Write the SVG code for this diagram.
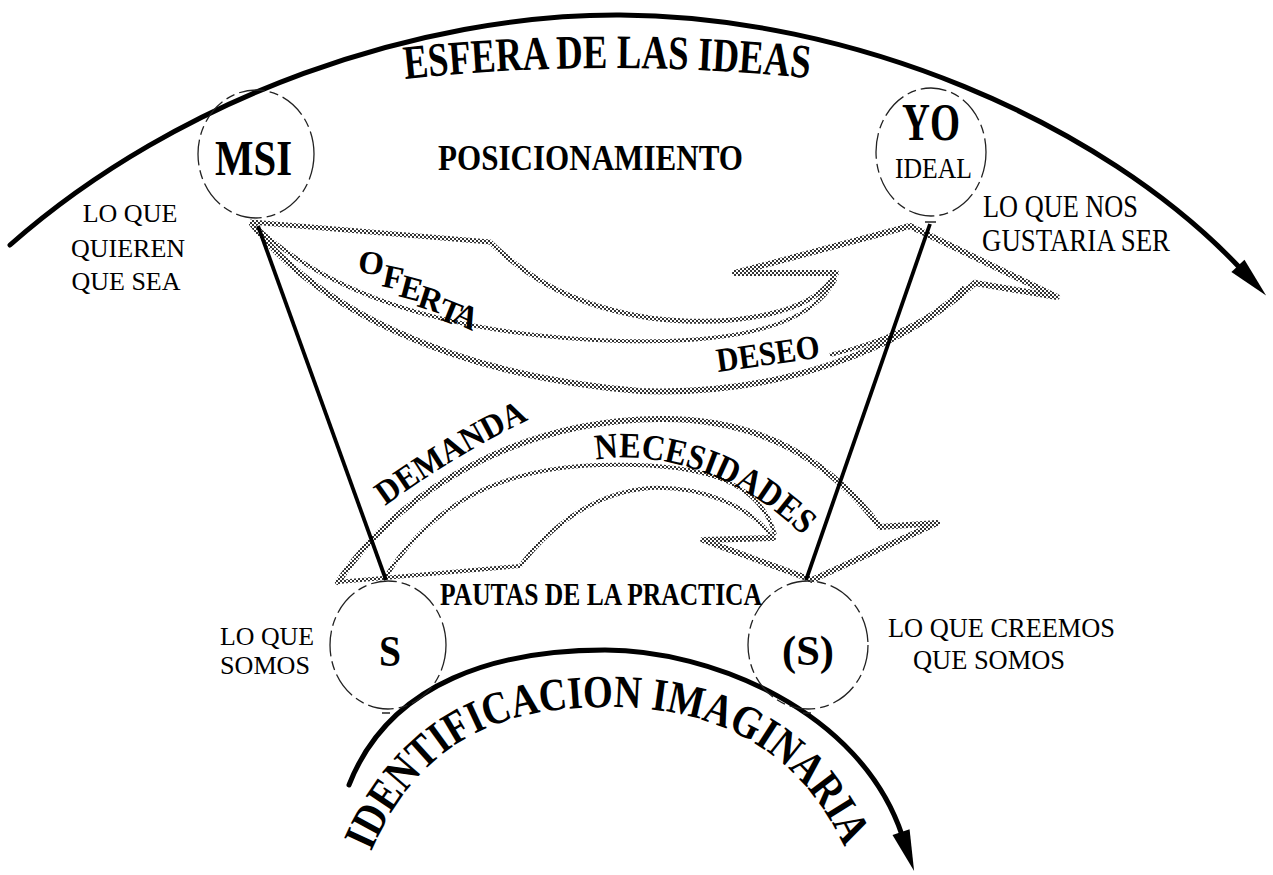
<svg xmlns="http://www.w3.org/2000/svg" width="1273" height="875" viewBox="0 0 1273 875">
<defs>
<style>
.arc{fill:none;stroke:#000;stroke-width:5;stroke-linecap:round}
.hb{fill:none;stroke:url(#ht);stroke-width:6;stroke-linejoin:round;stroke-linecap:round}
.hm{fill:none;stroke:url(#ht);stroke-width:5;stroke-linejoin:round}
.hn{fill:none;stroke:url(#ht);stroke-width:4;stroke-linejoin:round}
.ln{stroke:#000;stroke-width:3.8;fill:none}
.cir{fill:none;stroke:#222;stroke-width:1.3;stroke-dasharray:26 5 9 5}
.tk{stroke:#222;stroke-width:1.5}
.bd{font-family:'Liberation Serif','Times New Roman',serif;font-weight:bold;fill:#000}
.rg{font-family:'Liberation Serif','Times New Roman',serif;fill:#000}
</style>
<pattern id="ht" width="4" height="4" patternUnits="userSpaceOnUse">
<rect width="2" height="2" fill="#333"/><rect x="2" y="2" width="2" height="2" fill="#333"/>
</pattern>
<marker id="ah" markerUnits="userSpaceOnUse" markerWidth="46" markerHeight="24" viewBox="-4 -12 46 24" refX="0" refY="0" orient="auto">
<path d="M-3,-9 L38,0 L-3,9 z" fill="#000"/>
</marker>
<path id="pTitle" d="M 405 79 Q 610 57 815 79"/>
<path id="pBot" d="M 371 852 C 420 740, 500 708, 604 707 C 710 706, 800 745, 848 855"/>
<path id="pDem" d="M 385 506 Q 455 455 532 418"/>
<path id="pNec" d="M 596 460 C 650 450, 735 470, 800 533"/>
</defs>
<rect width="1273" height="875" fill="#fff"/>

<g id="connectors">
<path class="arc" d="M 10 245 C 180 95, 420 14, 620 15 C 850 16, 1100 120, 1240 268" marker-end="url(#ah)"/>
<path class="arc" d="M 349 785 C 390 680, 500 650, 605 650 C 710 650, 860 710, 902 835" marker-end="url(#ah)"/>
<path class="hm" d="M 250 222 L 490 242 C 530 280, 575 306, 650 318 C 730 328, 815 315, 836 273"/>
<path class="hn" d="M 256 227 C 320 285, 430 335, 620 341 C 730 344, 812 328, 836 278"/>
<path class="hb" d="M 252 224 C 310 300, 440 375, 640 391 C 780 396, 900 350, 975 283"/>
<path class="hn" d="M 830 355 C 885 342, 935 318, 964 287"/>
<path class="hb" d="M 836 273 L 735 273 L 910 226 L 1057 297 L 975 283"/>
<path class="hb" d="M 338 582 C 400 490, 520 420, 660 419 C 760 418, 830 460, 880 527"/>
<path class="hn" d="M 385 578 C 430 505, 500 468, 600 465 C 700 462, 760 480, 775 535"/>
<path class="hn" d="M 338 582 L 520 566 C 555 520, 600 492, 650 488 C 700 486, 750 505, 773 538"/>
<path class="hb" d="M 773 538 L 703 540 L 812 580 L 937 523 L 880 527"/>
<line class="ln" x1="258" y1="226" x2="386" y2="580"/>
<line class="ln" x1="930" y1="224" x2="806" y2="580"/>
</g>

<g id="node-msi">
<ellipse class="cir" cx="256" cy="154" rx="58" ry="64"/>
<text class="bd" x="215" y="175" font-size="50" textLength="77" lengthAdjust="spacingAndGlyphs">MSI</text>
</g>
<g id="node-yo">
<ellipse class="cir" cx="931" cy="152" rx="55" ry="64"/>
<line class="tk" x1="925" y1="222" x2="936" y2="222"/>
<text class="bd" x="902" y="140" font-size="52" textLength="58" lengthAdjust="spacingAndGlyphs">YO</text>
<text class="rg" x="895" y="178" font-size="30" textLength="77" lengthAdjust="spacingAndGlyphs">IDEAL</text>
</g>
<g id="node-s">
<ellipse class="cir" cx="388" cy="645" rx="58" ry="64"/>
<line class="tk" x1="382" y1="713" x2="390" y2="713"/>
<text class="bd" x="379" y="666" font-size="44" textLength="22" lengthAdjust="spacingAndGlyphs">S</text>
</g>
<g id="node-s2">
<ellipse class="cir" cx="808" cy="645" rx="60" ry="64"/>
<line class="tk" x1="803" y1="713" x2="811" y2="713"/>
<text class="bd" x="782" y="665" font-size="42" textLength="52" lengthAdjust="spacingAndGlyphs">(S)</text>
</g>

<g id="labels">
<text class="bd" font-size="48"><textPath href="#pTitle" textLength="405" lengthAdjust="spacingAndGlyphs">ESFERA DE LAS IDEAS</textPath></text>
<text class="bd" x="438" y="170" font-size="35" textLength="305" lengthAdjust="spacingAndGlyphs">POSICIONAMIENTO</text>
<text class="rg" font-size="26" text-anchor="middle">
<tspan x="130" y="222">LO QUE</tspan><tspan x="128" y="257">QUIEREN</tspan><tspan x="126" y="290">QUE SEA</tspan>
</text>
<text class="rg" x="983" y="217" font-size="31" textLength="155" lengthAdjust="spacingAndGlyphs">LO QUE NOS</text>
<text class="rg" x="982" y="251" font-size="31" textLength="188" lengthAdjust="spacingAndGlyphs">GUSTARIA SER</text>
<text class="rg" x="220" y="645" font-size="26" textLength="94" lengthAdjust="spacingAndGlyphs">LO QUE</text>
<text class="rg" x="220" y="674" font-size="26" textLength="90" lengthAdjust="spacingAndGlyphs">SOMOS</text>
<text class="rg" x="888" y="637" font-size="28" textLength="227" lengthAdjust="spacingAndGlyphs">LO QUE CREEMOS</text>
<text class="rg" x="913" y="669" font-size="28" textLength="152" lengthAdjust="spacingAndGlyphs">QUE SOMOS</text>
<text class="bd" x="440" y="605" font-size="31" textLength="322" lengthAdjust="spacingAndGlyphs">PAUTAS DE LA PRACTICA</text>
<text class="bd" font-size="33" x="357 381 398 416 436 451" y="272 286 296 306 318 321" rotate="8 12 15 18 22 25">OFERTA</text>
<text class="bd" x="718" y="372" font-size="34" textLength="104" lengthAdjust="spacingAndGlyphs" transform="rotate(-8 718 372)">DESEO</text>
<text class="bd" font-size="34"><textPath href="#pDem" textLength="168" lengthAdjust="spacingAndGlyphs">DEMANDA</textPath></text>
<text class="bd" font-size="36"><textPath href="#pNec" textLength="228" lengthAdjust="spacingAndGlyphs">NECESIDADES</textPath></text>
<text class="bd" font-size="46"><textPath href="#pBot" textLength="590" lengthAdjust="spacingAndGlyphs">IDENTIFICACION IMAGINARIA</textPath></text>
</g>
</svg>
